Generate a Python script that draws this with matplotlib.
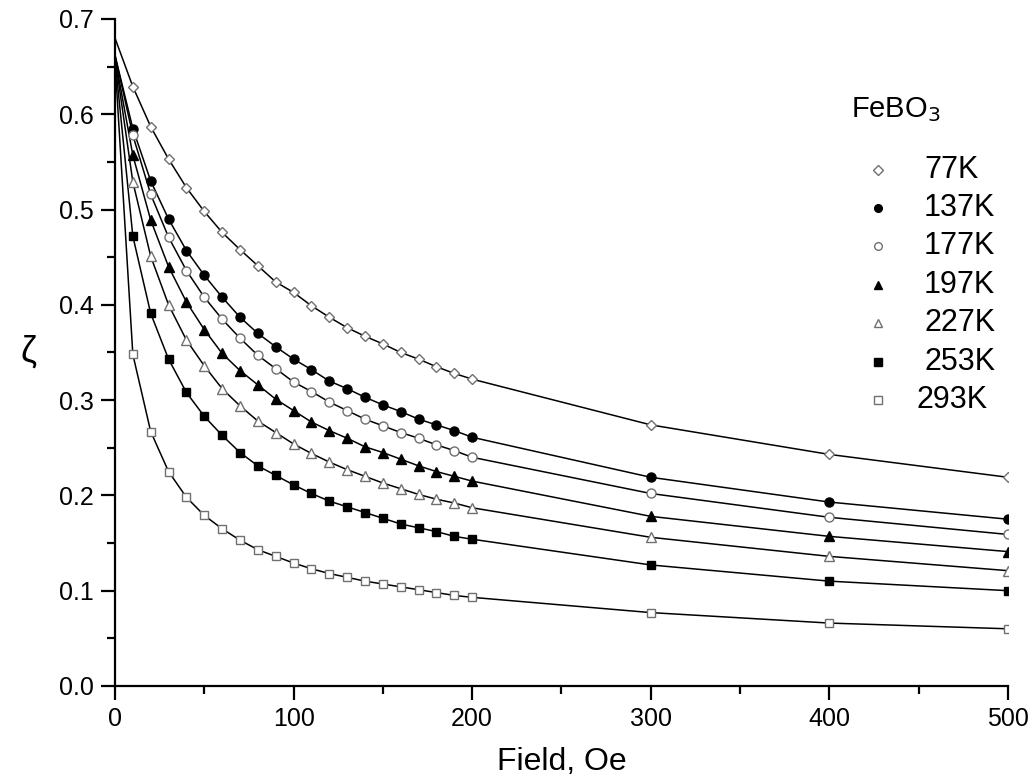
import numpy as np
import matplotlib.pyplot as plt

plt.rcParams['font.family'] = ['Liberation Sans', 'DejaVu Sans']

# field values (Oe) where points were measured
field = [10, 20, 30, 40, 50, 60, 70, 80, 90, 100, 110, 120, 130, 140, 150,
         160, 170, 180, 190, 200, 300, 400, 500]

labels = ["77K", "137K", "177K", "197K", "227K", "253K", "293K"]

z_77 = [0.629, 0.587, 0.553, 0.523, 0.498, 0.476, 0.458, 0.441, 0.424, 0.413,
        0.399, 0.387, 0.376, 0.367, 0.359, 0.350, 0.343, 0.335, 0.328, 0.322,
        0.274, 0.243, 0.219]
z_137 = [0.585, 0.530, 0.490, 0.457, 0.431, 0.408, 0.387, 0.370, 0.356, 0.343,
         0.332, 0.320, 0.312, 0.303, 0.295, 0.288, 0.280, 0.274, 0.268, 0.261,
         0.219, 0.193, 0.175]
z_177 = [0.578, 0.516, 0.471, 0.436, 0.408, 0.385, 0.365, 0.347, 0.333, 0.319,
         0.309, 0.298, 0.289, 0.280, 0.273, 0.266, 0.260, 0.253, 0.247, 0.240,
         0.202, 0.177, 0.159]
z_197 = [0.557, 0.489, 0.440, 0.403, 0.374, 0.349, 0.331, 0.316, 0.301, 0.289,
         0.277, 0.268, 0.260, 0.251, 0.245, 0.238, 0.231, 0.225, 0.220, 0.215,
         0.178, 0.157, 0.141]
z_227 = [0.529, 0.451, 0.400, 0.363, 0.336, 0.312, 0.294, 0.278, 0.266, 0.254,
         0.244, 0.235, 0.227, 0.220, 0.213, 0.207, 0.201, 0.196, 0.192, 0.187,
         0.156, 0.136, 0.121]
z_253 = [0.472, 0.391, 0.343, 0.308, 0.283, 0.263, 0.245, 0.231, 0.221, 0.211,
         0.202, 0.194, 0.188, 0.182, 0.176, 0.170, 0.166, 0.162, 0.157, 0.154,
         0.127, 0.110, 0.100]
z_293 = [0.348, 0.267, 0.225, 0.198, 0.179, 0.165, 0.153, 0.143, 0.136, 0.129,
         0.123, 0.118, 0.114, 0.110, 0.107, 0.104, 0.101, 0.098, 0.095, 0.093,
         0.077, 0.066, 0.060]
series = [z_77, z_137, z_177, z_197, z_227, z_253, z_293]

# value of each fitted curve at zero field
z0 = [0.680, 0.662, 0.662, 0.660, 0.660, 0.658, 0.656]

markers = ["D", "o", "o", "^", "^", "s", "s"]
msizes = [5.4, 6.5, 6.5, 7.2, 7.2, 6.0, 6.0]
filled = [False, True, False, True, False, True, False]

fig = plt.figure(figsize=(10.33, 7.78), dpi=100)
ax = fig.add_axes([0.1113, 0.1183, 0.8645, 0.8573])

for z, z_start, m, ms, f in zip(series, z0, markers, msizes, filled):
    ax.plot([0] + field, [z_start] + z, color="black", lw=1.1, zorder=2)
    if f:
        ax.plot(field, z, ls="none", marker=m, ms=ms, mfc="black", mec="black",
                mew=1.0, zorder=3)
    else:
        ax.plot(field, z, ls="none", marker=m, ms=ms, mfc="white", mec="#707070",
                mew=1.0, zorder=3)

# hand-drawn legend like the original
ax.text(0.824, 0.853, "FeBO$_3$", transform=ax.transAxes, fontsize=21,
        ha="left", va="baseline")
for i, (lab, m, ms, f) in enumerate(zip(labels, markers, msizes, filled)):
    yy = 0.7743 - i * 0.0577
    ax.plot([0.8548], [yy], transform=ax.transAxes, ls="none", marker=m,
            ms=ms * 0.85, mfc="black" if f else "white",
            mec="black" if f else "#707070", mew=1.0, clip_on=False)
    tx = 0.906 if i < 6 else 0.897
    ax.text(tx, yy, lab, transform=ax.transAxes, fontsize=22, ha="left",
            va="center")

ax.set_xlim(0, 500)
ax.set_ylim(0, 0.7)
ax.set_xticks(np.arange(0, 501, 100))
ax.set_xticks(np.arange(50, 500, 100), minor=True)
ax.set_yticks(np.arange(0, 0.71, 0.1))
ax.set_yticks(np.arange(0.05, 0.7, 0.1), minor=True)
ax.yaxis.set_major_formatter(plt.FormatStrFormatter("%.1f"))

for s in ["top", "right"]:
    ax.spines[s].set_visible(False)
for s in ["left", "bottom"]:
    ax.spines[s].set_linewidth(1.6)
ax.tick_params(which="major", direction="out", length=10, width=1.6,
               labelsize=18, pad=5)
ax.tick_params(which="minor", direction="out", length=5.5, width=1.6)

ax.set_xlabel("Field, Oe", fontsize=23, labelpad=12)
ax.set_ylabel("ζ", fontsize=26, rotation=0, labelpad=22, va="center")

fig.savefig("out.png", dpi=100)
